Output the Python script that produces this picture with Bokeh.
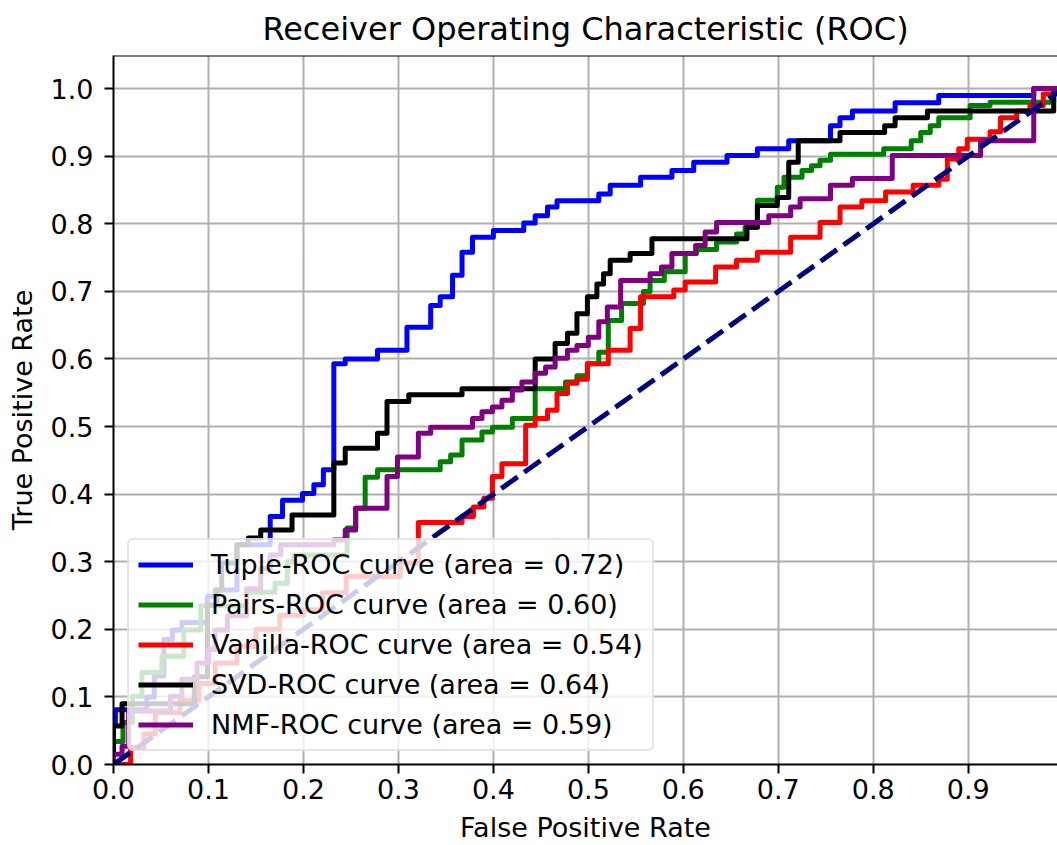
from bokeh.plotting import figure
from bokeh.models import Range1d, Legend, LegendItem, Span, FixedTicker
from bokeh.embed import file_html
from bokeh.resources import INLINE

# ---- data (step positions: fpr where TPR jumps, tpr = level after the jump) ----
tuple_fpr = [0, 0, 0.002, 0.035, 0.043, 0.053, 0.062, 0.072, 0.099, 0.107,
             0.130, 0.165, 0.178, 0.199, 0.211, 0.221, 0.232, 0.244, 0.278, 0.309,
             0.334, 0.344, 0.357, 0.367, 0.378, 0.400, 0.432, 0.444, 0.457, 0.467,
             0.511, 0.523, 0.555, 0.588, 0.611, 0.646, 0.678, 0.711, 0.755, 0.765,
             0.778, 0.823, 0.869, 0.969, 1.0]
tuple_tpr = [0, 0.060, 0.081, 0.100, 0.131, 0.185, 0.199, 0.210, 0.249, 0.258,
             0.325, 0.367, 0.391, 0.401, 0.414, 0.436, 0.593, 0.600, 0.613, 0.647,
             0.679, 0.692, 0.724, 0.758, 0.780, 0.790, 0.801, 0.812, 0.825, 0.834,
             0.844, 0.857, 0.869, 0.879, 0.891, 0.901, 0.911, 0.923, 0.945, 0.957,
             0.967, 0.979, 0.990, 1.0, 1.0]

pairs_fpr = [0, 0, 0.010, 0.020, 0.030, 0.051, 0.074, 0.092, 0.140, 0.170,
             0.183, 0.190, 0.246, 0.255, 0.265, 0.278, 0.344, 0.355, 0.367, 0.388,
             0.399, 0.420, 0.444, 0.476, 0.488, 0.499, 0.511, 0.521, 0.535, 0.558,
             0.565, 0.580, 0.602, 0.614, 0.635, 0.656, 0.665, 0.678, 0.699, 0.706,
             0.725, 0.735, 0.744, 0.755, 0.811, 0.840, 0.850, 0.860, 0.869, 0.902,
             0.923, 0.990, 1.0]
pairs_tpr = [0, 0.034, 0.062, 0.101, 0.136, 0.160, 0.199, 0.235, 0.255, 0.268,
             0.300, 0.310, 0.350, 0.379, 0.425, 0.436, 0.448, 0.458, 0.480, 0.492,
             0.499, 0.512, 0.556, 0.566, 0.575, 0.593, 0.610, 0.657, 0.682, 0.700,
             0.716, 0.729, 0.756, 0.762, 0.773, 0.785, 0.795, 0.835, 0.854, 0.869,
             0.879, 0.886, 0.894, 0.903, 0.911, 0.923, 0.935, 0.945, 0.957, 0.975,
             0.980, 1.0, 1.0]

vanilla_fpr = [0, 0.018, 0.032, 0.044, 0.070, 0.090, 0.107, 0.130, 0.150, 0.175,
               0.200, 0.220, 0.245, 0.302, 0.321, 0.367, 0.379, 0.390, 0.399, 0.409,
               0.434, 0.444, 0.457, 0.467, 0.478, 0.488, 0.499, 0.521, 0.544, 0.555,
               0.590, 0.602, 0.634, 0.656, 0.678, 0.713, 0.744, 0.765, 0.788, 0.813,
               0.842, 0.869, 0.878, 0.890, 0.899, 0.923, 0.934, 0.951, 0.965, 0.979,
               0.990, 1.0]
vanilla_tpr = [0, 0.025, 0.045, 0.077, 0.095, 0.120, 0.150, 0.175, 0.200, 0.221,
               0.229, 0.254, 0.278, 0.298, 0.358, 0.367, 0.381, 0.394, 0.426, 0.445,
               0.502, 0.512, 0.524, 0.549, 0.564, 0.570, 0.593, 0.613, 0.645, 0.692,
               0.702, 0.714, 0.736, 0.746, 0.758, 0.780, 0.802, 0.825, 0.834, 0.847,
               0.857, 0.866, 0.896, 0.911, 0.925, 0.936, 0.957, 0.967, 0.975, 0.992,
               1.0, 1.0]

svd_fpr = [0, 0, 0.009, 0.085, 0.099, 0.109, 0.114, 0.130, 0.142, 0.155,
           0.188, 0.232, 0.244, 0.278, 0.288, 0.311, 0.367, 0.444, 0.465, 0.478,
           0.488, 0.499, 0.509, 0.516, 0.523, 0.544, 0.567, 0.667, 0.678, 0.699,
           0.711, 0.721, 0.765, 0.812, 0.823, 0.857, 0.990, 1.0]
svd_tpr = [0, 0.057, 0.090, 0.130, 0.236, 0.258, 0.298, 0.325, 0.335, 0.347,
           0.369, 0.446, 0.468, 0.490, 0.537, 0.547, 0.556, 0.600, 0.623, 0.638,
           0.667, 0.692, 0.711, 0.726, 0.746, 0.756, 0.778, 0.795, 0.827, 0.839,
           0.891, 0.923, 0.935, 0.945, 0.957, 0.967, 1.0, 1.0]

nmf_fpr = [0, 0, 0.009, 0.016, 0.060, 0.072, 0.088, 0.100, 0.107, 0.120,
           0.140, 0.155, 0.165, 0.176, 0.232, 0.244, 0.255, 0.288, 0.299, 0.321,
           0.334, 0.378, 0.388, 0.399, 0.409, 0.420, 0.430, 0.444, 0.455, 0.465,
           0.478, 0.488, 0.500, 0.511, 0.520, 0.534, 0.565, 0.577, 0.588, 0.613,
           0.623, 0.635, 0.690, 0.713, 0.723, 0.755, 0.778, 0.820, 0.913, 0.969,
           1.0]
nmf_tpr = [0, 0.015, 0.027, 0.079, 0.101, 0.126, 0.150, 0.170, 0.199, 0.220,
           0.260, 0.290, 0.310, 0.325, 0.332, 0.347, 0.379, 0.426, 0.455, 0.490,
           0.499, 0.512, 0.522, 0.529, 0.539, 0.554, 0.566, 0.579, 0.588, 0.601,
           0.613, 0.620, 0.632, 0.655, 0.677, 0.716, 0.726, 0.736, 0.756, 0.768,
           0.788, 0.802, 0.812, 0.825, 0.837, 0.857, 0.867, 0.901, 0.923, 1.0,
           1.0]

chance_x = [0, 1]
chance_y = [0, 1]

series_labels = ["Tuple-ROC curve (area = 0.72)",
                 "Pairs-ROC curve (area = 0.60)",
                 "Vanilla-ROC curve (area = 0.54)",
                 "SVD-ROC curve (area = 0.64)",
                 "NMF-ROC curve (area = 0.59)"]
series_colors = ["blue", "green", "red", "black", "purple"]

x_ticks = [0.0, 0.1, 0.2, 0.3, 0.4, 0.5, 0.6, 0.7, 0.8, 0.9]
x_tick_labels = ["0.0", "0.1", "0.2", "0.3", "0.4", "0.5", "0.6", "0.7", "0.8", "0.9"]
y_ticks = [0.0, 0.1, 0.2, 0.3, 0.4, 0.5, 0.6, 0.7, 0.8, 0.9, 1.0]
y_tick_labels = ["0.0", "0.1", "0.2", "0.3", "0.4", "0.5", "0.6", "0.7", "0.8", "0.9", "1.0"]

FONT = "DejaVu Sans"
X_MAX = 0.994
Y_MAX = 1.049

p = figure(width=1057, height=845, x_range=Range1d(0, X_MAX), y_range=Range1d(0, Y_MAX),
           output_backend="svg", toolbar_location=None,
           min_border_left=113, min_border_right=0, min_border_top=55, min_border_bottom=80,
           title="Receiver Operating Characteristic (ROC)")
p.background_fill_color = "white"
p.border_fill_color = "white"
p.outline_line_color = None

p.title.text_font = FONT
p.title.text_font_size = "32px"
p.title.text_font_style = "normal"
p.title.align = "center"
p.title.text_color = "#000000"
p.title.text_line_height = 0.8
p.title.standoff = 15

for ax in (p.xaxis[0], p.yaxis[0]):
    ax.axis_line_color = "black"
    ax.axis_line_width = 2
    ax.major_tick_line_color = "black"
    ax.major_tick_line_width = 2
    ax.major_tick_out = 9
    ax.major_tick_in = 0
    ax.minor_tick_line_color = None
    ax.major_label_text_font = FONT
    ax.major_label_text_font_size = "27px"
    ax.major_label_text_color = "black"
    ax.axis_label_text_font = FONT
    ax.axis_label_text_font_size = "27px"
    ax.axis_label_text_font_style = "normal"
    ax.axis_label_text_color = "black"

p.xaxis.ticker = FixedTicker(ticks=x_ticks)
p.yaxis.ticker = FixedTicker(ticks=y_ticks)
p.xaxis.major_label_overrides = dict(zip(x_ticks, x_tick_labels))
p.yaxis.major_label_overrides = dict(zip(y_ticks, y_tick_labels))
p.xaxis.axis_label = "False Positive Rate"
p.yaxis.axis_label = "True Positive Rate"
p.xaxis.major_label_standoff = 5
p.xaxis.axis_label_standoff = 10
p.yaxis.major_label_standoff = 11
p.yaxis.axis_label_standoff = 10

p.xgrid.grid_line_color = "#b0b0b0"
p.ygrid.grid_line_color = "#b0b0b0"
p.xgrid.grid_line_width = 2
p.ygrid.grid_line_width = 2

p.add_layout(Span(location=Y_MAX, dimension="width", line_color="black", line_width=2))

series = [(tuple_fpr, tuple_tpr), (pairs_fpr, pairs_tpr), (vanilla_fpr, vanilla_tpr),
          (svd_fpr, svd_tpr), (nmf_fpr, nmf_tpr)]
items = []
for (fx, ty), col, lab in zip(series, series_colors, series_labels):
    r = p.step(fx, ty, mode="after", line_color=col, line_width=5, line_join="round")
    items.append(LegendItem(label=lab, renderers=[r]))

p.line(chance_x, chance_y, line_color="navy", line_width=5, line_dash="20 8")

legend = Legend(items=items, location=(14, 13))
legend.label_text_font = FONT
legend.label_text_font_size = "27px"
legend.label_text_color = "black"
legend.glyph_width = 55
legend.glyph_height = 31
legend.label_height = 31
legend.label_standoff = 18
legend.padding = 9
legend.spacing = 9
legend.margin = 0
legend.background_fill_color = "white"
legend.background_fill_alpha = 0.8
legend.border_line_color = "#cccccc"
legend.border_line_width = 2
if "border_radius" in Legend.properties():
    legend.border_radius = 6
p.add_layout(legend)

open("out.html", "w").write(file_html(p, INLINE))
